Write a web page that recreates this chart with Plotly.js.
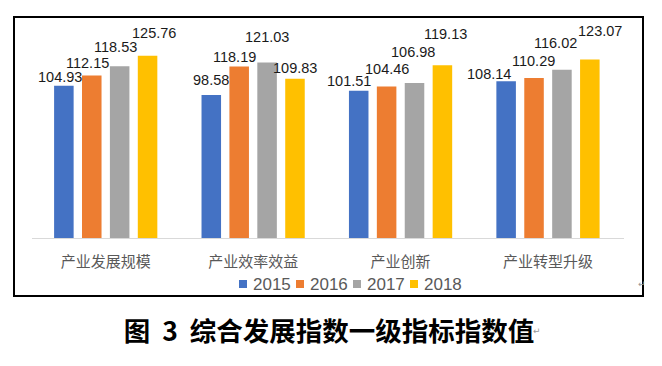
<!DOCTYPE html>
<html>
<head>
<meta charset="utf-8">
<script src="https://cdn.plot.ly/plotly-3.0.1.min.js"></script>
<style>html,body{margin:0;padding:0;background:#fff;}#chart{width:662px;height:366px;}</style>
</head>
<body>
<div id="chart"></div>
<script>
// ---- data ----
const categories = ['产业发展规模', '产业效率效益', '产业创新', '产业转型升级'];
const years = ['2015', '2016', '2017', '2018'];
const v2015 = [104.93, 98.58, 101.51, 108.14];
const v2016 = [112.15, 118.19, 104.46, 110.29];
const v2017 = [118.53, 121.03, 106.98, 116.02];
const v2018 = [125.76, 109.83, 119.13, 123.07];
const chartTitle = '图\u00a0\u00a03\u00a0\u00a0综合发展指数一级指标指数值';

// ---- style ----
const colors = ['#4472C4', '#ED7D31', '#A5A5A5', '#FFC000'];
const series = [v2015, v2016, v2017, v2018];
// label nudges in pixels (label placement as in the reference), per series per category
const labelDx = [[-3.5, 0, -10, -17], [-4.5, -5, 0, 0], [-4, 0, -1.5, -6.7], [6.5, 0, 3, 10]];
const labelDy = [[9.3, 15, 9.7, 7], [12.7, 9.3, 18, 17.3], [19.3, 26, 31, 26.7], [22.7, 11, 31, 28.3]];

const W = 662, H = 366;
const margin = {l: 32, r: 38, t: 35, b: 128};
const plotW = W - margin.l - margin.r;
const plotH = H - margin.t - margin.b;
const px = x => (x - margin.l) / plotW;          // pixel -> paper x
const py = y => (H - margin.b - y) / plotH;      // pixel -> paper y
const bargap = 0.243;
const slot = (plotW / categories.length) * (1 - bargap) / series.length;

// legend layout (pixels)
const legendStartX = 239, legendStep = 57, legendY = 284, legendBox = 8, legendTextGap = 13;

const traces = series.map((vals, i) => ({
  type: 'bar',
  name: years[i],
  x: categories,
  y: vals,
  marker: {color: colors[i]},
  hoverinfo: 'none',
  showlegend: false
}));

const annotations = [];
const shapes = [];
series.forEach((vals, i) => {
  vals.forEach((v, j) => {
    annotations.push({
      x: categories[j], y: v, xref: 'x', yref: 'y',
      text: v.toFixed(2), showarrow: false,
      xanchor: 'center', yanchor: 'middle',
      xshift: (i - (series.length - 1) / 2) * slot + labelDx[i][j],
      yshift: labelDy[i][j],
      font: {family: 'Liberation Sans, Arial, sans-serif', size: 14.5, color: '#1a1a1a'}
    });
  });
});

// legend (key squares + year labels)
years.forEach((yr, i) => {
  const lx = legendStartX + i * legendStep;
  shapes.push({
    type: 'rect', xref: 'paper', yref: 'paper',
    x0: px(lx), x1: px(lx + legendBox),
    y0: py(legendY + legendBox / 2), y1: py(legendY - legendBox / 2),
    line: {width: 0}, fillcolor: colors[i]
  });
  annotations.push({
    xref: 'paper', yref: 'paper', x: px(lx + legendTextGap) , y: py(legendY),
    xanchor: 'left', yanchor: 'middle', showarrow: false, text: yr, borderpad: 0,
    font: {family: 'Liberation Sans, Arial, sans-serif', size: 17, color: '#595959'}
  });
});

// paragraph marks
annotations.push({xref: 'paper', yref: 'paper', x: px(648), y: py(291),
  text: '↵', showarrow: false, font: {family: 'DejaVu Sans', size: 9, color: '#999'}});
annotations.push({xref: 'paper', yref: 'paper', x: px(543), y: py(338),
  text: '↵', showarrow: false, font: {family: 'DejaVu Sans', size: 9, color: '#999'}});

// outer frame
shapes.push({
  type: 'rect', xref: 'paper', yref: 'paper',
  x0: px(14), x1: px(643), y0: py(296), y1: py(17),
  line: {color: '#000', width: 2}, fillcolor: 'rgba(0,0,0,0)'
});

const layout = {
  width: W, height: H,
  margin: margin,
  paper_bgcolor: '#fff', plot_bgcolor: '#fff',
  barmode: 'group',
  bargap: bargap,
  bargroupgap: 0.3,
  showlegend: false,
  title: {
    text: chartTitle,
    x: 329 / W, xref: 'container', xanchor: 'center',
    y: 1 - 332 / H, yref: 'container', yanchor: 'middle',
    font: {family: 'Noto Sans CJK SC', size: 26.5, color: '#000', weight: 'bold'}
  },
  xaxis: {
    type: 'category',
    showline: true, linecolor: '#d9d9d9', linewidth: 1,
    showgrid: false, zeroline: false, ticks: '',
    ticklabelstandoff: 10,
    tickfont: {family: 'Noto Sans CJK SC', size: 15, color: '#595959'},
    fixedrange: true
  },
  yaxis: {
    range: [0, 140], visible: false, showgrid: false, zeroline: false, fixedrange: true
  },
  shapes: shapes,
  annotations: annotations
};

Plotly.newPlot('chart', traces, layout, {staticPlot: true, displayModeBar: false});
</script>
</body>
</html>
